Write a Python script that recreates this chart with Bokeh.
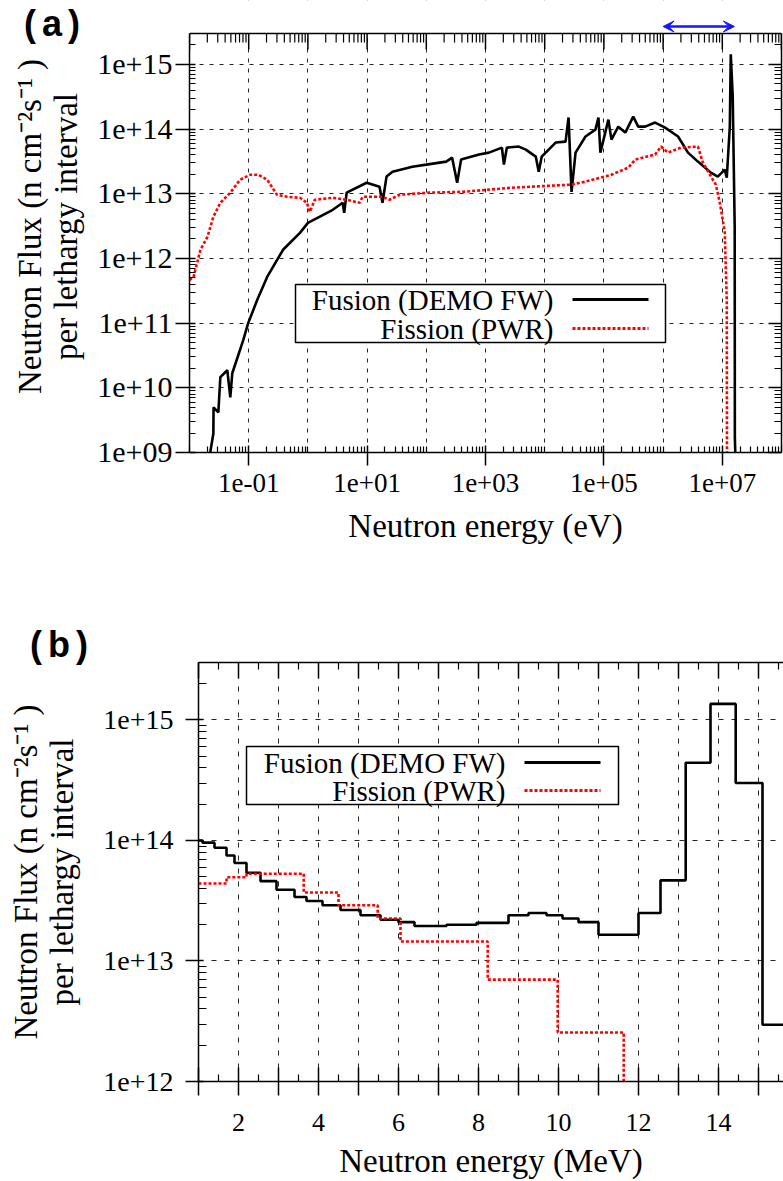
from bokeh.plotting import figure
from bokeh.layouts import column
from bokeh.models import (Range1d, FixedTicker, LogAxis, LinearAxis, Label, Div,
                          Arrow, VeeHead, BoxAnnotation, Span)
from bokeh.embed import file_html
from bokeh.resources import INLINE

# ---------------- data: panel (a)  energy (eV) vs flux per lethargy interval
fusion_a_energy = [0.021, 0.0253, 0.0255, 0.0307, 0.0332, 0.0435, 0.0489, 0.0528, 0.0809, 0.098,
                   0.139, 0.205, 0.38, 0.734, 1.0, 2.63, 3.87, 4.1, 4.52, 9.82,
                   16.2, 18.2, 21.3, 26.9, 58.2, 100, 217, 273, 332, 387,
                   778, 1146, 1893, 2046, 2297, 3656, 4797, 7063, 7925, 8913,
                   15300, 22500, 25300, 28400, 33200, 48900, 71900, 80900, 87300, 119000,
                   134000, 175000, 230000, 313000, 380000, 498000, 734000, 1.08e6, 1.79e6, 2.63e6,
                   3.87e6, 6.41e6, 8.40e6, 1.10e7, 1.19e7, 1.34e7, 1.39e7, 1.50e7, 1.62e7, 1.63e7,
                   1.69e7]
fusion_a_flux = [7e8, 1.97e9, 4.99e9, 4.17e9, 1.46e10, 1.87e10, 7.1e9, 1.68e10, 5.45e10, 1.0e11,
                 2.27e11, 5.17e11, 1.36e12, 2.48e12, 3.55e12, 5.65e12, 7.25e12, 5.07e12, 1.04e13, 1.48e13,
                 1.28e13, 7.25e12, 1.84e13, 2.19e13, 2.62e13, 2.82e13, 3.14e13, 3.61e13, 1.48e13, 3.37e13,
                 4.03e13, 4.32e13, 5.17e13, 2.82e13, 5.17e13, 5.36e13, 4.81e13, 3.75e13, 2.19e13, 3.75e13,
                 6.18e13, 6.4e13, 1.51e14, 1.07e13, 4.32e13, 7.66e13, 9.82e13, 1.51e14, 4.32e13, 1.40e14,
                 6.87e13, 1.09e14, 8.83e13, 1.56e14, 1.09e14, 1.09e14, 1.26e14, 1.05e14, 7.66e13, 4.32e13,
                 3.14e13, 2.12e13, 1.84e13, 2.36e13, 1.77e13, 1.09e14, 1.43e15, 3.19e14, 3.08e12, 1.71e9,
                 5e8]

fission_a_energy = [0.01, 0.0117, 0.0153, 0.0201, 0.0253, 0.0332, 0.0489, 0.0719, 0.106, 0.144,
                    0.205, 0.301, 0.444, 0.734, 0.962, 1.08, 1.31, 2.63, 4.52, 7.48,
                    8.40, 18.2, 23.9, 35.2, 112, 403, 2786, 27300, 48900, 134000,
                    258000, 338000, 734000, 925000, 1.21e6, 2.01e6, 3.87e6, 4.70e6, 6.17e6, 7.78e6,
                    9.08e6, 1.10e7, 1.19e7, 1.20e7]
fission_a_flux = [4.65e11, 5.17e11, 1.36e12, 2.15e12, 4.39e12, 7.25e12, 1.04e13, 1.65e13, 1.97e13, 1.97e13,
                  1.65e13, 9.64e12, 8.97e12, 8.66e12, 7.25e12, 5.26e12, 8.07e12, 8.66e12, 8.07e12, 7.25e12,
                  8.97e12, 8.97e12, 8.07e12, 9.64e12, 1.04e13, 1.07e13, 1.24e13, 1.38e13, 1.54e13, 1.97e13,
                  2.53e13, 3.37e13, 4.03e13, 5.36e13, 4.32e13, 5.17e13, 5.36e13, 3.03e13, 1.97e13, 1.38e13,
                  7.25e12, 2.58e12, 2.27e11, 7e8]

# energy window shown in panel (b), marked with the blue arrow in (a), eV
arrow_range_ev = [1e6, 1.6e7]

# ---------------- data: panel (b)  group-wise spectra (MeV bin edges, flux per bin)
fusion_b_edges = [1.0, 1.1, 1.4, 1.7, 1.9, 2.2, 2.55, 2.95, 3.4, 3.7,
                  4.1, 4.55, 5.05, 5.55, 6.0, 6.4, 7.2, 7.95, 8.75, 9.25,
                  9.7, 10.1, 10.5, 11.0, 12.0, 12.55, 13.18, 13.8, 14.43, 15.1,
                  16.0]
fusion_b_flux = [1.0e14, 9.6e13, 8.7e13, 7.5e13, 6.5e13, 5.4e13, 4.6e13, 3.9e13, 3.4e13, 3.15e13,
                 2.9e13, 2.65e13, 2.4e13, 2.2e13, 2.1e13, 1.95e13, 2.0e13, 2.07e13, 2.4e13, 2.5e13,
                 2.4e13, 2.25e13, 2.1e13, 1.65e13, 2.5e13, 4.67e13, 4.42e14, 1.36e15, 3.0e14, 2.96e12]

fission_b_edges = [1.0, 1.7, 2.2, 3.63, 4.5, 5.48, 6.05, 8.23, 9.98, 11.63]
# last entry: spectrum falls below the plotted range above 11.63 MeV
fission_b_flux = [4.4e13, 4.95e13, 5.3e13, 3.7e13, 2.9e13, 2.25e13, 1.45e13, 7.0e12, 2.55e12, 1e11]

# ---------------- ticks / labels
a_xticks = [1e-1, 1e1, 1e3, 1e5, 1e7]
a_xtick_labels = ["1e-01", "1e+01", "1e+03", "1e+05", "1e+07"]
a_yticks = [1e9, 1e10, 1e11, 1e12, 1e13, 1e14, 1e15]
a_ytick_labels = ["1e+09", "1e+10", "1e+11", "1e+12", "1e+13", "1e+14", "1e+15"]
b_xticks = [2, 4, 6, 8, 10, 12, 14]
b_xtick_labels = ["2", "4", "6", "8", "10", "12", "14"]
b_yticks = [1e12, 1e13, 1e14, 1e15]
b_ytick_labels = ["1e+12", "1e+13", "1e+14", "1e+15"]
legend_labels = ["Fusion (DEMO FW)", "Fission (PWR)"]
panel_labels = ["(a)", "(b)"]
ylabel = "Neutron Flux (n cm\u207b\u00b2s\u207b\u00b9 )\nper lethargy interval"
xlabel_a = "Neutron energy (eV)"
xlabel_b = "Neutron energy (MeV)"

SERIF = "Liberation Serif"
LAB_FS = "33px"
LEG_FS = "29px"
RED = "#ff0000"
BLUE = "#1414ff"

# axis extents (panel a): visible plot box 1e-2..1e8 eV, 1e9..3e15
A_X = (1e-2, 1e8)
A_Y = (1e9, 3e15)
A_PX_PER_DEC = 419 / 6.4771          # frame px per decade in y
A_TOP_PAD = 33                        # px of canvas above the plot box (arrow strip)
A_Y_CANVAS_TOP = A_Y[1] * 10 ** (A_TOP_PAD / A_PX_PER_DEC)


def decades(lo, hi):
    return [10.0 ** n for n in range(lo, hi + 1)]


def log_minors(lo, hi, top=None):
    out = []
    for n in range(lo, hi + 1):
        for k in range(2, 10):
            v = k * 10.0 ** n
            if top is None or v <= top:
                out.append(v)
    return out


def style_axis(ax, tin, tout, min_in, label_size):
    ax.axis_line_color = "black"
    ax.axis_line_width = 1.5
    ax.major_tick_line_color = "black"
    ax.major_tick_line_width = 1.5
    ax.minor_tick_line_color = "black"
    ax.minor_tick_line_width = 1.2
    ax.major_tick_in = tin
    ax.major_tick_out = tout
    ax.minor_tick_in = min_in
    ax.minor_tick_out = 0
    ax.major_label_text_font = SERIF
    ax.major_label_text_font_size = label_size
    ax.major_label_text_color = "black"
    ax.axis_label_text_font = SERIF
    ax.axis_label_text_font_size = LAB_FS
    ax.axis_label_text_font_style = "normal"
    ax.axis_label_text_color = "black"
    ax.axis_label_text_line_height = 1.0


def hidden_axis(ax, tin, min_in):
    style_axis(ax, tin, 0, min_in, "2px")
    ax.major_label_text_alpha = 0
    ax.major_label_standoff = 0


def style_grid(p, dash):
    for g in (p.xgrid, p.ygrid):
        g.grid_line_color = "black"
        g.grid_line_dash = dash
        g.grid_line_width = 1
        g.grid_line_alpha = 0.85


def legend(p, box, text_right, y0, dy, line_x):
    p.add_layout(BoxAnnotation(left=box[0], right=box[1], top=box[2], bottom=box[3],
                               left_units="canvas", right_units="canvas",
                               top_units="canvas", bottom_units="canvas",
                               fill_color="white", fill_alpha=1.0,
                               line_color="black", line_width=1.5, line_alpha=1.0))
    for i, (lab, col, dash) in enumerate(zip(legend_labels, ["black", RED], ["solid", "3 2"])):
        yy = y0 + dy * i
        p.add_layout(Label(x=text_right, y=yy, x_units="canvas", y_units="canvas", text=lab,
                           text_align="right", text_baseline="middle",
                           text_font=SERIF, text_font_size=LEG_FS, text_color="black"))
        p.add_layout(Arrow(end=None, x_start=line_x[0], x_end=line_x[1], y_start=yy, y_end=yy,
                           start_units="canvas", end_units="canvas",
                           line_color=col, line_width=3, line_dash=dash))


def panel_label(text, left, top):
    return Div(text=("<span style=\"font-family:'Liberation Sans';font-weight:bold;"
                     "font-size:36px;letter-spacing:6px;line-height:1;color:black\">%s</span>" % text),
               width=90, height=44,
               styles={"position": "absolute", "left": "%dpx" % left, "top": "%dpx" % top,
                       "z-index": "10", "margin": "0", "padding": "0"})


# =============================== panel (a)
pa = figure(width=783, height=580, x_axis_type="log", y_axis_type="log",
            x_range=Range1d(*A_X), y_range=Range1d(A_Y[0], A_Y_CANVAS_TOP),
            output_backend="svg", toolbar_location=None,
            min_border_left=189, min_border_right=2, min_border_top=0, min_border_bottom=128)
pa.frame_align = False
pa.background_fill_color = "white"
pa.border_fill_color = "white"
pa.outline_line_color = None

xa = pa.xaxis[0]
xa.ticker = FixedTicker(ticks=a_xticks,
                        minor_ticks=[d for d in decades(-2, 8) if d not in a_xticks] + log_minors(-2, 7))
xa.major_label_overrides = dict(zip(a_xticks, a_xtick_labels))
style_axis(xa, 7, 13, 6, "27px")
xa.major_label_standoff = 8
xa.axis_label = xlabel_a
xa.axis_label_standoff = 13

ya = pa.yaxis[0]
ya.ticker = FixedTicker(ticks=a_yticks, minor_ticks=log_minors(9, 15, A_Y[1]))
ya.major_label_overrides = dict(zip(a_yticks, a_ytick_labels))
style_axis(ya, 6, 14, 6, "30px")
ya.major_label_standoff = 3
ya.axis_label = ylabel
ya.axis_label_standoff = 10
ya.bounds = A_Y

right_a = LogAxis(ticker=FixedTicker(ticks=a_yticks, minor_ticks=log_minors(9, 15, A_Y[1])))
hidden_axis(right_a, 13, 7)
right_a.bounds = A_Y
pa.add_layout(right_a, "right")

style_grid(pa, "4 6")
pa.xgrid.ticker = FixedTicker(ticks=decades(-2, 8))
pa.ygrid.ticker = FixedTicker(ticks=a_yticks)

# inward ticks along the top edge of the plot box
top_major = decades(-2, 8)
top_minor = log_minors(-2, 7)
pa.segment(x0=top_major, x1=top_major, y0=[A_Y[1]] * len(top_major),
           y1=[A_Y[1] / 10 ** (16 / A_PX_PER_DEC)] * len(top_major),
           line_color="black", line_width=1.5)
pa.segment(x0=top_minor, x1=top_minor, y0=[A_Y[1]] * len(top_minor),
           y1=[A_Y[1] / 10 ** (9 / A_PX_PER_DEC)] * len(top_minor),
           line_color="black", line_width=1.2)

pa.line(fusion_a_energy, fusion_a_flux, line_color="black", line_width=2.6)
pa.line(fission_a_energy, fission_a_flux, line_color=RED, line_width=2.6, line_dash="3 2")

# blank strip above the plot box, top edge line
pa.add_layout(BoxAnnotation(bottom=A_Y[1], fill_color="white", fill_alpha=1.0,
                            line_alpha=0, level="annotation"))
pa.add_layout(Span(location=A_Y[1], dimension="width", line_color="black", line_width=1.5))

pa.add_layout(Arrow(start=VeeHead(size=11, fill_color=BLUE, line_color=BLUE),
                    end=VeeHead(size=11, fill_color=BLUE, line_color=BLUE),
                    x_start=arrow_range_ev[0], x_end=arrow_range_ev[1],
                    y_start=A_Y[1] * 10 ** (7 / A_PX_PER_DEC),
                    y_end=A_Y[1] * 10 ** (7 / A_PX_PER_DEC),
                    line_color=BLUE, line_width=2.5))

legend(pa, (295, 665, 284, 342), 553, 299, 29, (572, 648))

# =============================== panel (b)
pb = figure(width=783, height=601, y_axis_type="log",
            x_range=Range1d(1, 15.625), y_range=Range1d(1e12, 3e15),
            output_backend="svg", toolbar_location=None,
            min_border_left=198, min_border_right=0, min_border_top=82, min_border_bottom=99)
pb.frame_align = False
pb.background_fill_color = "white"
pb.border_fill_color = "white"
pb.outline_line_color = None

int_ticks = list(range(1, 17))
half_ticks = [t + 0.5 for t in range(1, 16)]

xb = pb.xaxis[0]
xb.ticker = FixedTicker(ticks=int_ticks, minor_ticks=half_ticks)
ov = {t: " " for t in int_ticks}
ov.update(dict(zip(b_xticks, b_xtick_labels)))
xb.major_label_overrides = ov
style_axis(xb, 14, 14, 7, "26px")
xb.major_label_standoff = 12
xb.axis_label = xlabel_b
xb.axis_label_standoff = 3

yb = pb.yaxis[0]
yb.ticker = FixedTicker(ticks=b_yticks, minor_ticks=log_minors(12, 15, 3e15))
yb.major_label_overrides = dict(zip(b_yticks, b_ytick_labels))
style_axis(yb, 5, 13, 8, "28px")
yb.major_label_standoff = 12
yb.axis_label = ylabel
yb.axis_label_standoff = 20

top_b = LinearAxis(ticker=FixedTicker(ticks=int_ticks, minor_ticks=half_ticks))
hidden_axis(top_b, 16, 7)
pb.add_layout(top_b, "above")

style_grid(pb, "5 8")
pb.xgrid.ticker = FixedTicker(ticks=int_ticks)
pb.ygrid.ticker = FixedTicker(ticks=b_yticks)

pb.step(fusion_b_edges, fusion_b_flux + fusion_b_flux[-1:], mode="after",
        line_color="black", line_width=2.6)
pb.step(fission_b_edges, fission_b_flux, mode="after",
        line_color=RED, line_width=2.6, line_dash="3 2")

legend(pb, (246, 618, 166, 224), 505, 182, 28, (524, 600))

label_a = panel_label(panel_labels[0], 24, 6)
label_b = panel_label(panel_labels[1], 30, 627)

layout = column(label_a, label_b, pa, pb, spacing=0)
open("out.html", "w").write(file_html(layout, INLINE))
